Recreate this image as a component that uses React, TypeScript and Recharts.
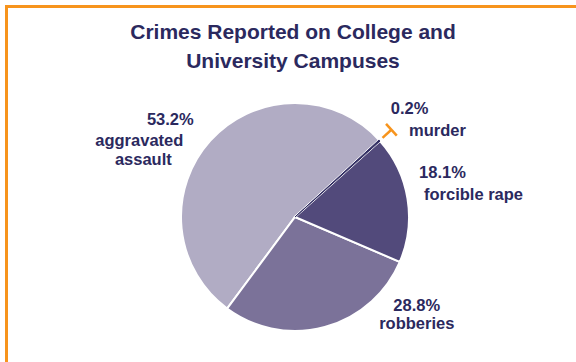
import React from "react"
import { PieChart, Pie, Cell } from "recharts"

const CATEGORIES = ["aggravated assault", "robberies", "forcible rape", "murder"]
const VALUES = [53.2, 28.8, 18.1, 0.2]
const LABEL_LINES = [
  ["53.2%", "aggravated", "assault"],
  ["28.8%", "robberies"],
  ["18.1%", "forcible rape"],
  ["0.2%", "murder"],
]

const COLORS = ["#B1ACC4", "#7B7299", "#524A7B", "#2E2A60"]
const TEXT = "#2B295E"
const ORANGE = "#F7941D"
const FONT = "'Liberation Sans', Arial, sans-serif"

// per-line offsets (dx, dy) from the point on the rim at mid angle; text is centred
const LABEL_OFFSETS = [
  [[-40, -16], [-71, 5], [-67, 24]],
  [[92, -16], [92, 2]],
  [[35, -21], [66, 1]],
  [[30, -27], [58, -5]],
]

const data = CATEGORIES.map((name, i) => ({ name, value: VALUES[i] }))

const RAD = Math.PI / 180

function renderLabel(props: any) {
  const { cx, cy, midAngle, outerRadius, index } = props
  const ax = cx + outerRadius * Math.cos(-midAngle * RAD)
  const ay = cy + outerRadius * Math.sin(-midAngle * RAD)
  const lines = LABEL_LINES[index]
  const offs = LABEL_OFFSETS[index]
  let callout = null
  if (index === 3) {
    const c = Math.cos(-midAngle * RAD)
    const s = Math.sin(-midAngle * RAD)
    const r1 = outerRadius + 4
    const r2 = outerRadius + 16
    const bx = cx + r2 * c
    const by = cy + r2 * s
    callout = (
      <g stroke={ORANGE} strokeWidth={2.5} fill="none">
        <line x1={cx + r1 * c} y1={cy + r1 * s} x2={bx} y2={by} />
        <line x1={bx - 8 * -s} y1={by - 8 * c} x2={bx + 8 * -s} y2={by + 8 * c} />
      </g>
    )
  }
  return (
    <g key={`lbl-${index}`}>
      {callout}
      {lines.map((t, j) => (
        <text
          key={j}
          x={ax + offs[j][0]}
          y={ay + offs[j][1]}
          textAnchor="middle"
          fill={TEXT}
          fontFamily={FONT}
          fontWeight="bold"
          fontSize={16.5}
        >
          {t}
        </text>
      ))}
    </g>
  )
}

export default function App() {
  return (
    <div style={{ position: "absolute", left: 0, top: 0, width: 576, height: 362, background: "#fff", overflow: "hidden" }}>
      <div style={{ position: "absolute", left: 5, top: 5, width: 571, height: 3, background: ORANGE }} />
      <div style={{ position: "absolute", left: 5, top: 5, width: 3, height: 357, background: ORANGE }} />
      <div
        style={{
          position: "absolute",
          left: 0,
          top: 17,
          width: 586,
          textAlign: "center",
          color: TEXT,
          fontFamily: FONT,
          fontWeight: "bold",
          fontSize: 21,
          lineHeight: "29px",
        }}
      >
        Crimes Reported on College and
        <br />
        University Campuses
      </div>
      <div style={{ position: "absolute", left: 0, top: 0 }}>
        <PieChart width={576} height={362} margin={{ top: 0, right: 0, bottom: 0, left: 0 }}>
          <Pie
            data={data}
            dataKey="value"
            nameKey="name"
            cx={295}
            cy={217}
            outerRadius={114}
            startAngle={42.5}
            endAngle={402.5}
            stroke="#fff"
            strokeWidth={2}
            label={renderLabel}
            labelLine={false}
            isAnimationActive={false}
          >
            {data.map((d, i) => (
              <Cell
                key={d.name}
                fill={COLORS[i]}
                stroke={i === 3 ? COLORS[i] : "#fff"}
                strokeWidth={i === 3 ? 1 : 2}
              />
            ))}
          </Pie>
        </PieChart>
      </div>
    </div>
  )
}
